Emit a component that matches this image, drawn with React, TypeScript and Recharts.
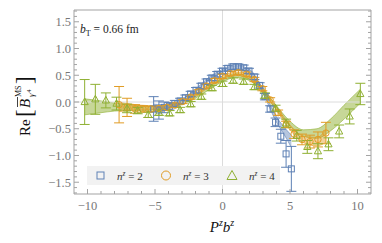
import {
  ComposedChart,
  Scatter,
  Area,
  XAxis,
  YAxis,
  ErrorBar,
  ReferenceLine,
  Legend,
  Customized
} from 'recharts';

const BLUE = '#5e81b5';
const ORANGE = '#e19c24';
const GREEN = '#8fb032';
const FRAME = '#a3a3a3';
const LABEL = '#777777';
const SERIF = '"Liberation Serif", "DejaVu Serif", serif';

// n^z = 2 : P^z b^z, Re value, error
const n2Pb = [-5.1, -4.71, -4.32, -3.93, -3.53, -3.14, -2.75, -2.36, -1.96, -1.57, -1.18, -0.79, -0.39, 0, 0.39, 0.79, 1.18, 1.57, 1.96, 2.36, 2.75, 3.14, 3.53, 3.93, 4.32, 4.71, 5.1];
const n2Re = [-0.13, -0.15, -0.1, -0.08, -0.03, 0.02, 0.08, 0.15, 0.22, 0.3, 0.38, 0.45, 0.52, 0.58, 0.63, 0.66, 0.66, 0.64, 0.58, 0.47, 0.31, 0.1, -0.13, -0.38, -0.64, -0.97, -1.25];
const n2Err = [0.23, 0.17, 0.1, 0.07, 0.06, 0.05, 0.05, 0.05, 0.05, 0.05, 0.05, 0.05, 0.05, 0.05, 0.05, 0.05, 0.05, 0.05, 0.05, 0.05, 0.05, 0.06, 0.06, 0.08, 0.13, 0.25, 0.42];

// n^z = 3
const n3Pb = [-7.66, -7.07, -6.48, -5.89, -5.3, -4.71, -4.12, -3.53, -2.95, -2.36, -1.77, -1.18, -0.59, 0, 0.59, 1.18, 1.77, 2.36, 2.95, 3.53, 4.12, 4.71, 5.3, 5.89, 6.48, 7.07, 7.66];
const n3Re = [-0.05, -0.1, -0.13, -0.13, -0.13, -0.12, -0.1, -0.06, 0.01, 0.09, 0.19, 0.3, 0.4, 0.48, 0.53, 0.55, 0.52, 0.42, 0.25, 0.04, -0.2, -0.42, -0.6, -0.7, -0.74, -0.7, -0.58];
const n3Err = [0.34, 0.17, 0.08, 0.06, 0.05, 0.05, 0.04, 0.04, 0.04, 0.04, 0.04, 0.04, 0.04, 0.04, 0.04, 0.04, 0.04, 0.04, 0.04, 0.04, 0.05, 0.06, 0.08, 0.1, 0.12, 0.14, 0.2];

// n^z = 4
const n4Pb = [-10.21, -9.42, -8.64, -7.85, -7.07, -6.28, -5.5, -4.71, -3.93, -3.14, -2.36, -1.57, -0.79, 0, 0.79, 1.57, 2.36, 3.14, 3.93, 4.71, 5.5, 6.28, 7.07, 7.85, 8.64, 9.42, 10.21];
const n4Re = [0.0, 0.05, 0.03, -0.03, -0.12, -0.16, -0.24, -0.2, -0.21, -0.15, -0.04, 0.1, 0.26, 0.34, 0.4, 0.38, 0.28, 0.12, -0.12, -0.4, -0.63, -0.84, -0.92, -0.79, -0.55, -0.27, 0.15];
const n4Err = [0.42, 0.28, 0.14, 0.12, 0.08, 0.06, 0.05, 0.05, 0.05, 0.05, 0.05, 0.05, 0.05, 0.05, 0.05, 0.05, 0.05, 0.05, 0.06, 0.08, 0.1, 0.12, 0.14, 0.12, 0.12, 0.14, 0.2];

// fit bands (lower / upper edge)
const band2X = [-5.1, -4.5, -4, -3, -2, -1, 0, 1, 2, 3, 4, 4.5, 5.1];
const band2Lo = [-0.18, -0.14, -0.11, -0.02, 0.18, 0.4, 0.55, 0.62, 0.54, 0.16, -0.38, -0.58, -0.85];
const band2Hi = [-0.04, -0.05, -0.04, 0.05, 0.24, 0.46, 0.61, 0.68, 0.61, 0.23, -0.28, -0.45, -0.62];

const band3X = [-7.66, -7, -6, -5, -4, -3, -2, -1, 0, 1, 2, 3, 4, 5, 6, 7, 7.66];
const band3Lo = [-0.18, -0.16, -0.15, -0.14, -0.12, -0.04, 0.1, 0.28, 0.43, 0.5, 0.43, 0.2, -0.16, -0.52, -0.76, -0.82, -0.75];
const band3Hi = [0.0, -0.03, -0.06, -0.07, -0.06, 0.02, 0.16, 0.34, 0.49, 0.56, 0.5, 0.27, -0.09, -0.43, -0.64, -0.66, -0.52];

const band4X = [-10.21, -9, -8, -7, -6, -5, -4, -3, -2, -1, 0, 1, 2, 3, 4, 5, 6, 7, 8, 9, 10.21];
const band4Lo = [-0.24, -0.2, -0.17, -0.16, -0.16, -0.15, -0.12, -0.05, 0.07, 0.23, 0.38, 0.46, 0.4, 0.18, -0.15, -0.45, -0.64, -0.68, -0.54, -0.32, -0.02];
const band4Hi = [0.06, 0.02, -0.02, -0.05, -0.07, -0.08, -0.05, 0.02, 0.14, 0.3, 0.45, 0.53, 0.47, 0.25, -0.07, -0.36, -0.52, -0.5, -0.32, -0.06, 0.24];

const xTicks = [-10, -9, -8, -7, -6, -5, -4, -3, -2, -1, 0, 1, 2, 3, 4, 5, 6, 7, 8, 9, 10];
const yTicks = [
  -1.7, -1.6, -1.5, -1.4, -1.3, -1.2, -1.1, -1.0, -0.9, -0.8, -0.7, -0.6, -0.5, -0.4, -0.3, -0.2, -0.1,
  0, 0.1, 0.2, 0.3, 0.4, 0.5, 0.6, 0.7, 0.8, 0.9, 1.0, 1.1, 1.2, 1.3, 1.4, 1.5, 1.6, 1.7
];

const points = (xs: number[], ys: number[], es: number[]) =>
  xs.map((x, i) => ({ x, y: ys[i], err: es[i] }));
const band = (xs: number[], lo: number[], hi: number[]) =>
  xs.map((x, i) => ({ x, range: [lo[i], hi[i]] }));

const n2Rows = points(n2Pb, n2Re, n2Err);
const n3Rows = points(n3Pb, n3Re, n3Err);
const n4Rows = points(n4Pb, n4Re, n4Err);
const band2Rows = band(band2X, band2Lo, band2Hi);
const band3Rows = band(band3X, band3Lo, band3Hi);
const band4Rows = band(band4X, band4Lo, band4Hi);

const fmt = (v: number, d: number) => (v < -1e-9 ? '\u2212' : '') + Math.abs(v).toFixed(d);

const BottomTick = ({ x, y, payload }: any) => {
  const major = payload.value % 5 === 0;
  return (
    <g>
      <line x1={x} x2={x} y1={y} y2={y - (major ? 5 : 3)} stroke={FRAME} />
      {major && (
        <text x={x} y={y + 16} textAnchor="middle" fill={LABEL} fontSize={12.5} fontFamily={SERIF}>
          {fmt(payload.value, 0)}
        </text>
      )}
    </g>
  );
};

const TopTick = ({ x, y, payload }: any) => {
  const major = payload.value % 5 === 0;
  return <line x1={x} x2={x} y1={y} y2={y + (major ? 5 : 3)} stroke={FRAME} />;
};

const isMajorY = (v: number) => Math.abs(v * 2 - Math.round(v * 2)) < 1e-6;

const LeftTick = ({ x, y, payload }: any) => {
  const major = isMajorY(payload.value);
  return (
    <g>
      <line x1={x} x2={x + (major ? 5 : 3)} y1={y} y2={y} stroke={FRAME} />
      {major && (
        <text x={x - 3} y={y + 4.5} textAnchor="end" fill={LABEL} fontSize={12.5} fontFamily={SERIF}>
          {fmt(payload.value, 1)}
        </text>
      )}
    </g>
  );
};

const RightTick = ({ x, y, payload }: any) => {
  const major = isMajorY(payload.value);
  return <line x1={x} x2={x - (major ? 5 : 3)} y1={y} y2={y} stroke={FRAME} />;
};

const OpenSquare = (p: any) => (
  <rect x={p.cx - 3} y={p.cy - 3} width={6} height={6} fill="none" stroke={BLUE} strokeWidth={1} />
);
const OpenCircle = (p: any) => (
  <circle cx={p.cx} cy={p.cy} r={3.2} fill="none" stroke={ORANGE} strokeWidth={1} />
);
const OpenTriangle = (p: any) => (
  <path
    d={`M${p.cx},${p.cy - 4} L${p.cx + 3.6},${p.cy + 2.6} L${p.cx - 3.6},${p.cy + 2.6} Z`}
    fill="none"
    stroke={GREEN}
    strokeWidth={1}
  />
);

const LegendBox = () => (
  <svg width={193} height={19} style={{ display: 'block' }}>
    <rect width={193} height={19} fill="#f2f2f2" />
    <rect x={10} y={6} width={7} height={7} fill="none" stroke={BLUE} />
    <text x={30} y={13.5} fontFamily={SERIF} fontSize={11} fill="#333">
      <tspan fontStyle="italic">n</tspan>
      <tspan fontSize={7.5} dy={-4} fontStyle="italic">z</tspan>
      <tspan dy={4}> = 2</tspan>
    </text>
    <circle cx={79} cy={9.5} r={4.5} fill="none" stroke={ORANGE} />
    <text x={96} y={13.5} fontFamily={SERIF} fontSize={11} fill="#333">
      <tspan fontStyle="italic">n</tspan>
      <tspan fontSize={7.5} dy={-4} fontStyle="italic">z</tspan>
      <tspan dy={4}> = 3</tspan>
    </text>
    <path d="M145,4.5 L150,13.5 L140,13.5 Z" fill="none" stroke={GREEN} />
    <text x={162} y={13.5} fontFamily={SERIF} fontSize={11} fill="#333">
      <tspan fontStyle="italic">n</tspan>
      <tspan fontSize={7.5} dy={-4} fontStyle="italic">z</tspan>
      <tspan dy={4}> = 4</tspan>
    </text>
  </svg>
);

const Titles = () => (
  <g fontFamily={SERIF}>
    <text x={80} y={33} fontSize={11.5} fill="#222">
      <tspan fontStyle="italic">b</tspan>
      <tspan fontSize={8} dy={2.5}>T</tspan>
      <tspan dy={-2.5}> = 0.66 fm</tspan>
    </text>
    <text x={222} y={232} textAnchor="middle" fontSize={15} fill="#111" fontStyle="italic">
      <tspan>P</tspan>
      <tspan fontSize={10} dy={-6}>z</tspan>
      <tspan dy={6}>b</tspan>
      <tspan fontSize={10} dy={-6}>z</tspan>
    </text>
    <g transform="translate(30,104) rotate(-90)" fill="#111">
      <text x={-32} y={0} fontSize={15}>Re</text>
      <text x={-13} y={2} fontSize={23}>[</text>
      <text x={-4} y={0} fontSize={15} fontStyle="italic">B</text>
      <line x1={-3} x2={7} y1={-12.5} y2={-12.5} stroke="#111" strokeWidth={0.8} />
      <text x={7} y={-9} fontSize={8}>MS</text>
      <text x={7} y={4} fontSize={9} fontStyle="italic">γ</text>
      <text x={11.5} y={1} fontSize={6}>4</text>
      <text x={20} y={2} fontSize={23}>]</text>
    </g>
  </g>
);

const App = () => (
  <div style={{ position: 'absolute', left: 0, top: 0 }}>
    <ComposedChart width={382} height={243} margin={{ top: 9, right: 10, bottom: 19, left: 14 }}>
      <XAxis
        dataKey="x"
        type="number"
        domain={[-11, 11]}
        allowDataOverflow
        ticks={xTicks}
        interval={0}
        tickLine={false}
        tickSize={0}
        tickMargin={0}
        height={30}
        axisLine={{ stroke: FRAME }}
        tick={<BottomTick />}
      />
      <XAxis
        xAxisId="top"
        orientation="top"
        type="number"
        domain={[-11, 11]}
        allowDataOverflow
        ticks={xTicks}
        interval={0}
        tickLine={false}
        tickSize={0}
        tickMargin={0}
        height={1}
        axisLine={{ stroke: FRAME }}
        tick={<TopTick />}
      />
      <YAxis
        type="number"
        domain={[-1.72, 1.72]}
        allowDataOverflow
        ticks={yTicks}
        interval={0}
        tickLine={false}
        tickSize={0}
        tickMargin={0}
        width={60}
        axisLine={{ stroke: FRAME }}
        tick={<LeftTick />}
      />
      <YAxis
        yAxisId="right"
        orientation="right"
        type="number"
        domain={[-1.72, 1.72]}
        allowDataOverflow
        ticks={yTicks}
        interval={0}
        tickLine={false}
        tickSize={0}
        tickMargin={0}
        width={1}
        axisLine={{ stroke: FRAME }}
        tick={<RightTick />}
      />
      <ReferenceLine x={0} stroke="#dcdcdc" />
      <ReferenceLine y={0} stroke="#dcdcdc" />

      <Area data={band4Rows} dataKey="range" type="monotone" fill={GREEN} fillOpacity={0.5} stroke={GREEN} strokeOpacity={0.6} strokeWidth={1} isAnimationActive={false} />
      <Area data={band3Rows} dataKey="range" type="monotone" fill={ORANGE} fillOpacity={0.45} stroke={ORANGE} strokeOpacity={0.6} strokeWidth={1} isAnimationActive={false} />
      <Area data={band2Rows} dataKey="range" type="monotone" fill={BLUE} fillOpacity={0.45} stroke={BLUE} strokeOpacity={0.6} strokeWidth={1} isAnimationActive={false} />

      <Scatter name="n=2" data={n2Rows} dataKey="y" shape={OpenSquare} isAnimationActive={false}>
        <ErrorBar dataKey="err" direction="y" width={5} stroke={BLUE} strokeWidth={1} />
      </Scatter>
      <Scatter name="n=3" data={n3Rows} dataKey="y" shape={OpenCircle} isAnimationActive={false}>
        <ErrorBar dataKey="err" direction="y" width={5} stroke={ORANGE} strokeWidth={1} />
      </Scatter>
      <Scatter name="n=4" data={n4Rows} dataKey="y" shape={OpenTriangle} isAnimationActive={false}>
        <ErrorBar dataKey="err" direction="y" width={5} stroke={GREEN} strokeWidth={1} />
      </Scatter>

      <Legend
        layout="vertical"
        align="center"
        verticalAlign="middle"
        wrapperStyle={{ left: 87, top: 166, width: 193, height: 19 }}
        content={() => <LegendBox />}
      />
      <Customized component={Titles} />
    </ComposedChart>
  </div>
);

export default App;
